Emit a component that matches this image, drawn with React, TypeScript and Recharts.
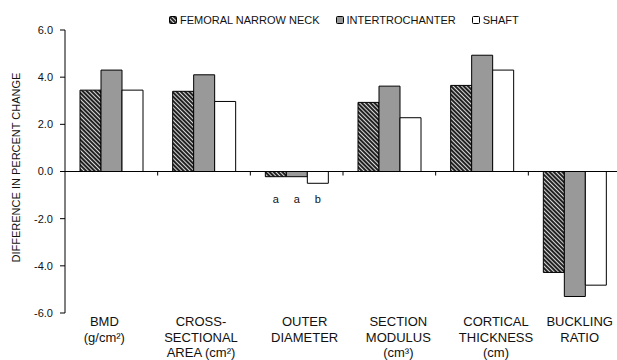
import { BarChart, Bar, XAxis, YAxis, ReferenceLine, Legend, LabelList } from 'recharts';

const categories = ['BMD', 'CSA', 'OD', 'SM', 'CT', 'BR'];
const categoryLines = [
  ['BMD', '(g/cm²)'],
  ['CROSS-', 'SECTIONAL', 'AREA (cm²)'],
  ['OUTER', 'DIAMETER'],
  ['SECTION', 'MODULUS', '(cm³)'],
  ['CORTICAL', 'THICKNESS', '(cm)'],
  ['BUCKLING', 'RATIO'],
];
const seriesNames = ['FEMORAL NARROW NECK', 'INTERTROCHANTER', 'SHAFT'];
const neckValues = [3.45, 3.4, -0.22, 2.93, 3.65, -4.28];
const interValues = [4.3, 4.1, -0.22, 3.62, 4.93, -5.3];
const shaftValues = [3.45, 2.97, -0.5, 2.28, 4.3, -4.82];
const neckMarks = ['', '', 'a', '', '', ''];
const interMarks = ['', '', 'a', '', '', ''];
const shaftMarks = ['', '', 'b', '', '', ''];
const yTicks = [-6, -4, -2, 0, 2, 4, 6];

const data = categories.map((cat, i) => ({
  cat,
  nn: neckValues[i],
  it: interValues[i],
  sh: shaftValues[i],
  nnMark: neckMarks[i],
  itMark: interMarks[i],
  shMark: shaftMarks[i],
}));

const FONT = '"Liberation Sans", Arial, sans-serif';
const INK = '#111';
const fills = ['url(#hatch)', '#999999', '#ffffff'];
// small horizontal nudges, the original labels are not quite centred
const TICK_NUDGE = [-7, -3, 8, 9, 14, 5];

function CategoryTick(props: any) {
  const { x, y, payload } = props;
  const i = categories.indexOf(payload.value);
  const lines = categoryLines[i] || [];
  return (
    <text textAnchor="middle" fontSize={13} fill={INK} fontFamily={FONT}>
      {lines.map((l, k) => (
        <tspan key={k} x={x + (TICK_NUDGE[i] || 0)} y={y + 13 + k * 15.5}>{l}</tspan>
      ))}
    </text>
  );
}

function ZeroLine(props: any) {
  const { x1, x2, y1 } = props;
  const n = categories.length;
  const marks = [];
  for (let i = 1; i <= n; i++) {
    const x = x1 + ((x2 - x1) * i) / n;
    marks.push(<line key={i} x1={x} x2={x} y1={y1} y2={y1 + 4} stroke="#000" />);
  }
  return (
    <g>
      <line x1={x1} x2={x2} y1={y1} y2={y1} stroke="#000" />
      {marks}
    </g>
  );
}

function MarkLabel(props: any) {
  const { x, y, width, height, value } = props;
  if (!value) return null;
  const top = Math.min(Number(y), Number(y) + Number(height));
  return (
    <text x={Number(x) + Number(width) / 2} y={top + 31.5} textAnchor="middle" fontSize={11} fill={INK} fontFamily={FONT}>
      {value}
    </text>
  );
}

function AxisTitle(props: any) {
  const vb = props.viewBox || {};
  const cx = vb.x + 16;
  const cy = vb.y + vb.height / 2 - 4;
  return (
    <text x={cx} y={cy} transform={`rotate(-90,${cx},${cy})`} textAnchor="middle" dominantBaseline="central" fontSize={11} fill={INK} fontFamily={FONT}>
      DIFFERENCE IN PERCENT CHANGE
    </text>
  );
}

function LegendContent() {
  return (
    <div style={{ display: 'flex', alignItems: 'center', height: 20, gap: 16, fontFamily: FONT, fontSize: 11, color: INK, whiteSpace: 'nowrap' }}>
      {seriesNames.map((name, i) => (
        <span key={name} style={{ display: 'flex', alignItems: 'center' }}>
          <svg width={8} height={8} style={{ marginRight: 3 }}>
            <rect x={0.5} y={0.5} width={7} height={7} rx={1} fill={fills[i]} stroke="#000" />
          </svg>
          {name}
        </span>
      ))}
    </div>
  );
}

export default function App() {
  return (
    <div style={{ position: 'absolute', left: 0, top: 0, width: 617, height: 360, overflow: 'hidden', background: '#fff' }}>
      <BarChart
        width={625}
        height={360}
        data={data}
        margin={{ top: 10, right: 4, bottom: 0, left: 0 }}
        barCategoryGap={15}
        barGap={0}
      >
        <defs>
          <pattern id="hatch" width="3" height="3" patternUnits="userSpaceOnUse" patternTransform="rotate(-45)">
            <rect width="3" height="3" fill="#222" />
            <line x1="1.5" y1="0" x2="1.5" y2="3" stroke="#d8d8d8" strokeWidth="1" />
          </pattern>
        </defs>
        <Legend
          verticalAlign="top"
          content={<LegendContent />}
          wrapperStyle={{ top: 10, left: 169, width: 420, height: 20 }}
        />
        <XAxis
          dataKey="cat"
          axisLine={false}
          tickLine={false}
          tickSize={0}
          tickMargin={0}
          height={47}
          interval={0}
          tick={CategoryTick}
        />
        <YAxis
          domain={[-6, 6]}
          ticks={yTicks}
          width={65}
          tickSize={5}
          tickMargin={7}
          tickFormatter={(v: number) => v.toFixed(1)}
          tick={{ fontSize: 11, fill: INK, fontFamily: FONT }}
          axisLine={{ stroke: '#000' }}
          tickLine={{ stroke: '#000' }}
          label={<AxisTitle />}
        />
        <Bar dataKey="nn" name={seriesNames[0]} fill={fills[0]} stroke="#000" strokeWidth={1} isAnimationActive={false}>
          <LabelList dataKey="nnMark" content={MarkLabel} />
        </Bar>
        <Bar dataKey="it" name={seriesNames[1]} fill={fills[1]} stroke="#000" strokeWidth={1} isAnimationActive={false}>
          <LabelList dataKey="itMark" content={MarkLabel} />
        </Bar>
        <Bar dataKey="sh" name={seriesNames[2]} fill={fills[2]} stroke="#000" strokeWidth={1} isAnimationActive={false}>
          <LabelList dataKey="shMark" content={MarkLabel} />
        </Bar>
        <ReferenceLine y={0} shape={ZeroLine} />
      </BarChart>
    </div>
  );
}
